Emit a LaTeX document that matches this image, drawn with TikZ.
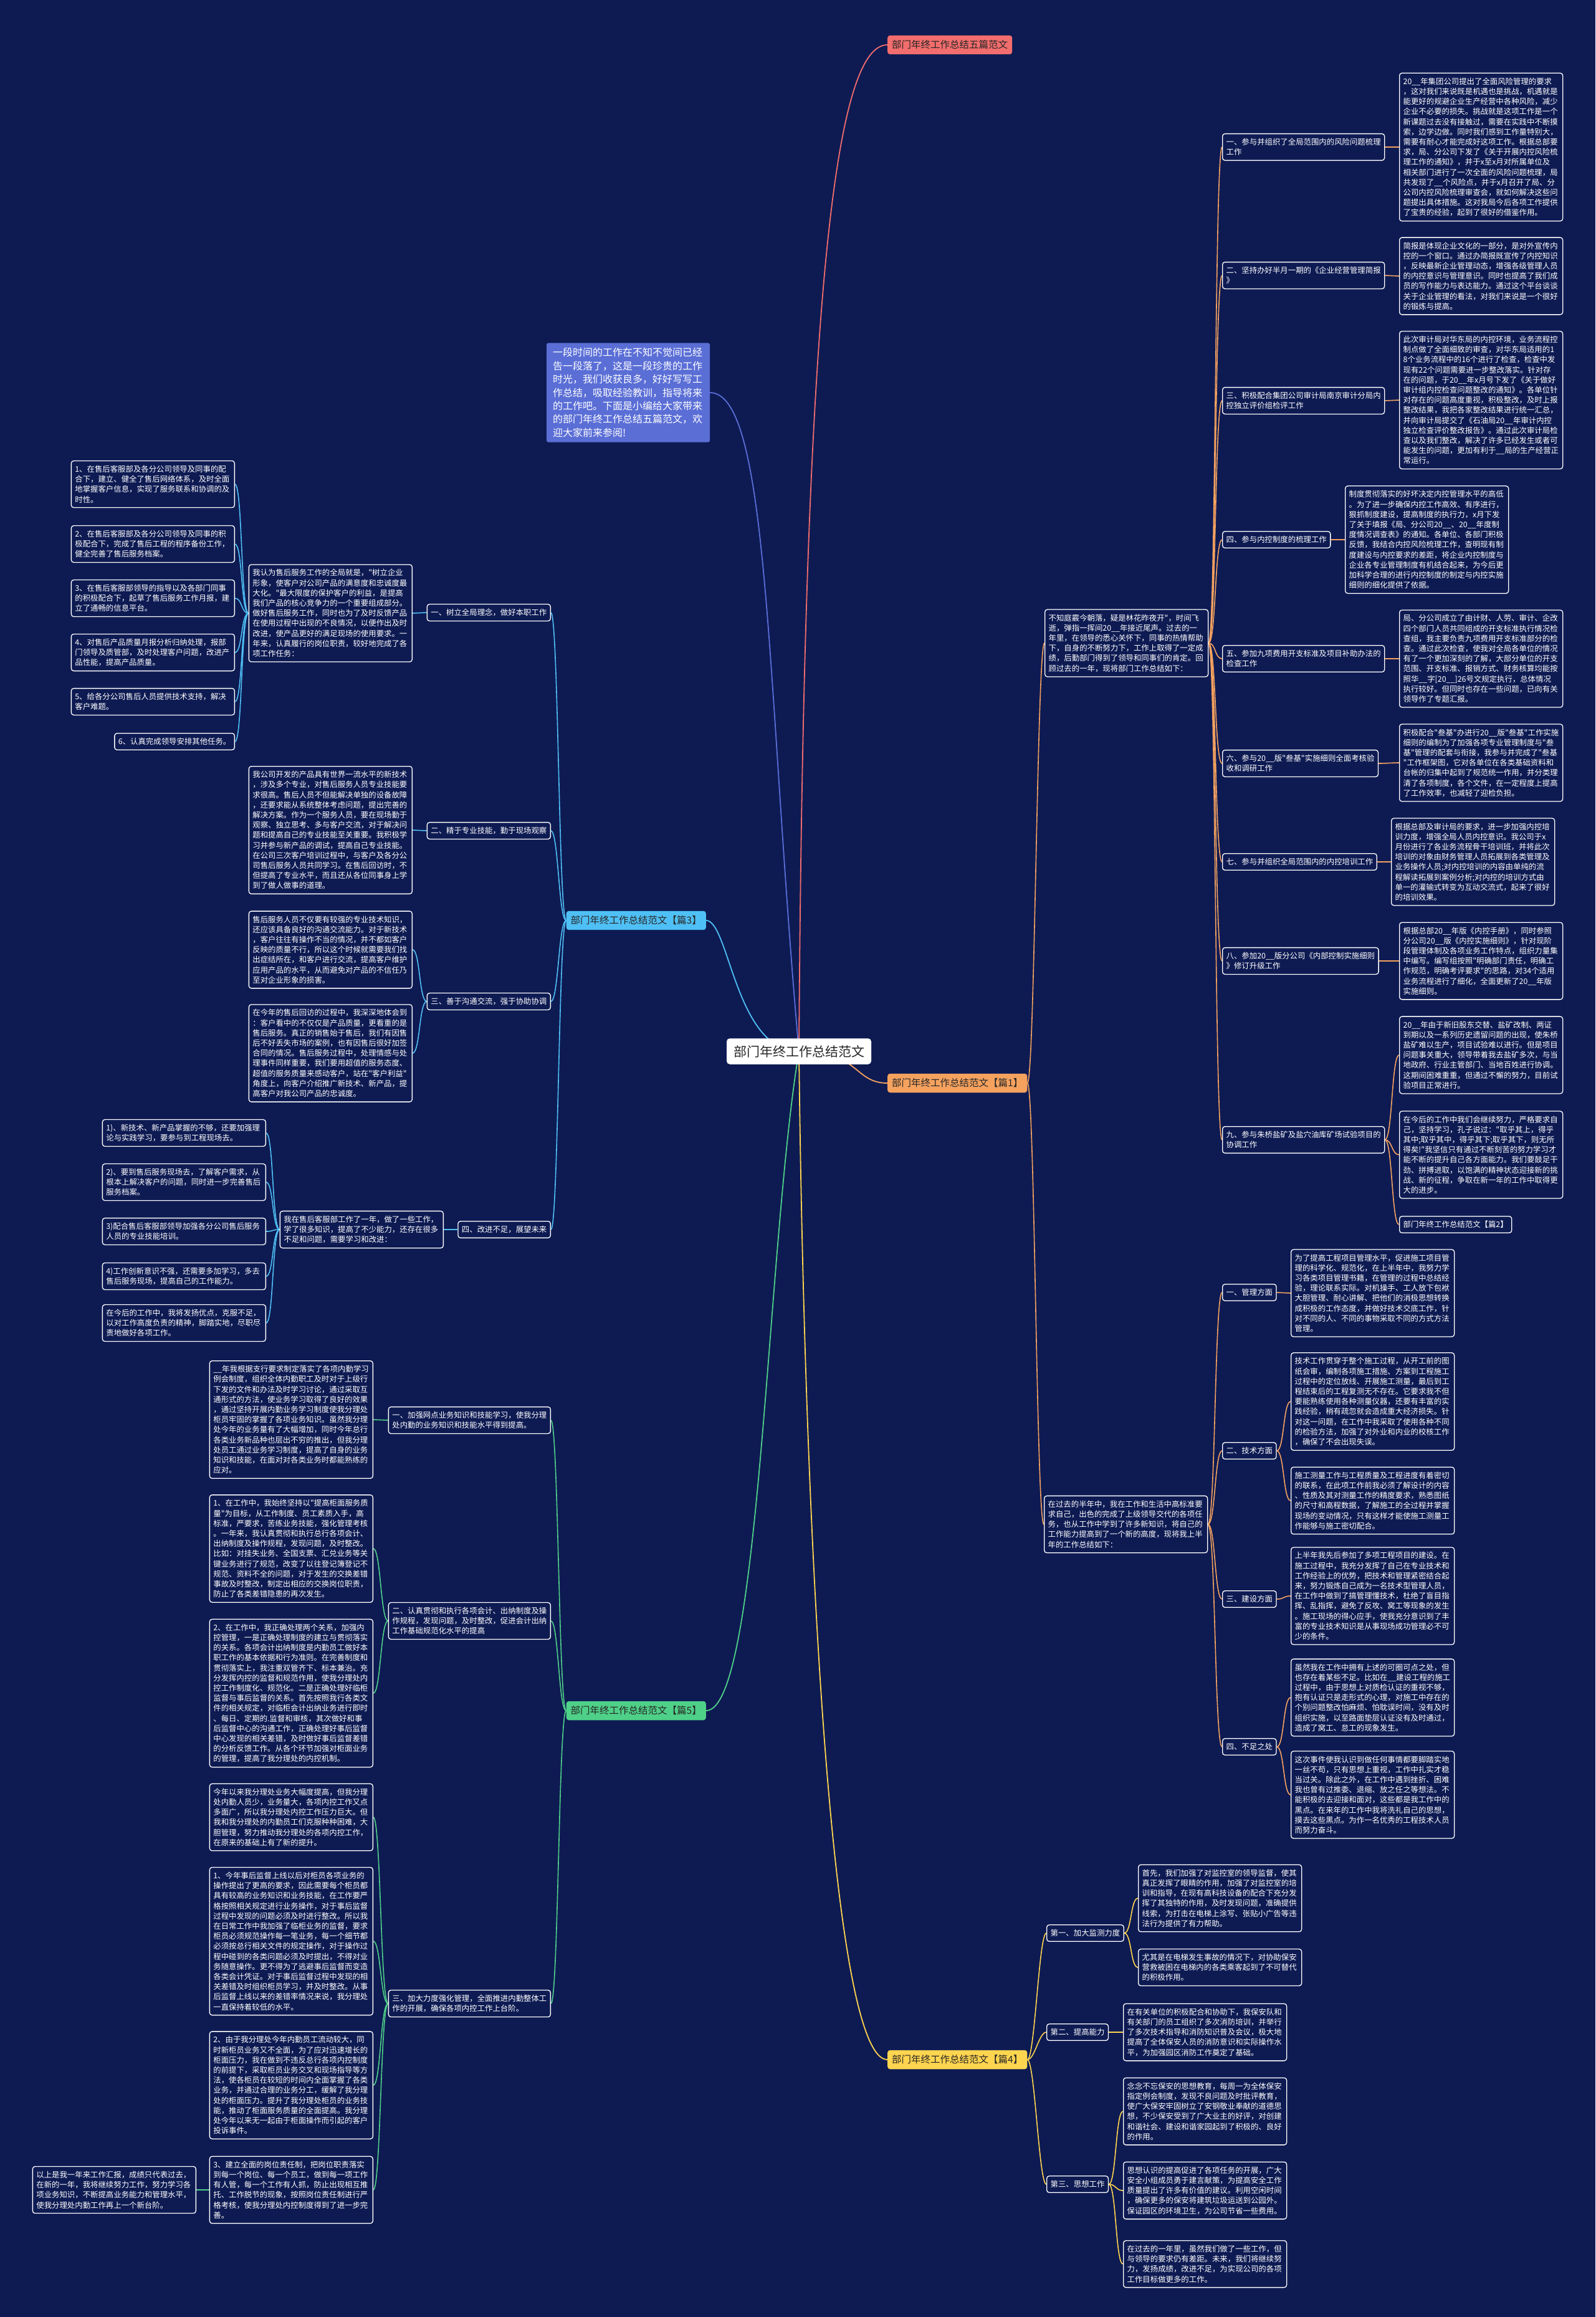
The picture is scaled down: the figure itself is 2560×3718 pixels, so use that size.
\documentclass[tikz,border=0pt]{standalone}
\usepackage{fontspec}
\newfontfamily\zh{Noto Sans CJK SC}
\usepackage{xcolor}
\definecolor{Night}{HTML}{0E1B53}
\definecolor{Rosy}{HTML}{F26D6D}
\definecolor{Periw}{HTML}{5A6ED6}
\definecolor{Sky}{HTML}{4FC0F5}
\definecolor{Apricot}{HTML}{F5A25F}
\definecolor{Mint}{HTML}{4FD088}
\definecolor{Butter}{HTML}{FFD54F}
\colorlet{night}{Night}
\colorlet{rosy}{Rosy}
\colorlet{periw}{Periw}
\colorlet{sky}{Sky}
\colorlet{apricot}{Apricot}
\colorlet{mint}{Mint}
\colorlet{butter}{Butter}
\usepackage{tikz}
\pgfdeclarelayer{bg}
\pgfdeclarelayer{wires}
\pgfsetlayers{bg,wires,main}

\begin{document}
\begin{tikzpicture}[x=1pt,y=-1pt,
  every node/.style={font=\zh\fontsize{12.4}{16.2}\selectfont,align=left,text=white},
  card/.style={draw=white,line width=1.3pt,rounded corners=4pt,fill=night,inner xsep=6pt,inner ysep=7.5pt},
  note/.style={card,text width=250pt},
  head/.style={rounded corners=4pt,inner xsep=7pt,inner ysep=8pt,text=black!85,font=\zh\fontsize{15.5}{19}\selectfont},
  wr/.style={line width=1.6pt,to path={.. controls +(12,0) and +(-12,0) .. (\tikztotarget)}},
  wl/.style={line width=1.6pt,to path={.. controls +(-12,0) and +(12,0) .. (\tikztotarget)}}]
\begin{pgfonlayer}{bg}
\fill[night] (0,0) rectangle (2560,3718);
\end{pgfonlayer}
\useasboundingbox (0,0) rectangle (2560,3718);

% centre and first level
\node[fill=white,text=black!85,rounded corners=5pt,inner xsep=11pt,inner ysep=11pt,font=\zh\fontsize{21}{25}\selectfont] (root) at (1282,1687) {部门年终工作总结范文};
\node[head,fill=rosy,anchor=west] (t0) at (1424,72) {部门年终工作总结五篇范文};
\node[fill=periw,rounded corners=3pt,text width=242pt,inner xsep=10pt,inner ysep=8pt,font=\zh\fontsize{16}{21.4}\selectfont] (i0) at (1008,630) {一段时间的工作在不知不觉间已经\\告一段落了，这是一段珍贵的工作\\时光，我们收获良多，好好写写工\\作总结，吸取经验教训，指导将来\\的工作吧。下面是小编给大家带来\\的部门年终工作总结五篇范文，欢\\迎大家前来参阅!};
\node[head,fill=apricot,anchor=west] (p1) at (1424,1738) {部门年终工作总结范文【篇1】};
\node[head,fill=sky,anchor=east] (p3) at (1133,1477) {部门年终工作总结范文【篇3】};
\node[head,fill=mint,anchor=east] (p5) at (1133,2745) {部门年终工作总结范文【篇5】};
\node[head,fill=butter,anchor=west] (p4) at (1424,3305) {部门年终工作总结范文【篇4】};

% 篇1
\node[note,anchor=west] (k0) at (1676,1032) {不知庭霰今朝落，疑是林花昨夜开"，时间飞\\逝，弹指一挥间20\_\_年接近尾声。过去的一\\年里，在领导的悉心关怀下，同事的热情帮助\\下，自身的不断努力下，工作上取得了一定成\\绩，后勤部门得到了领导和同事们的肯定。回\\顾过去的一年，现将部门工作总结如下：};
\node[card,anchor=west] (k1) at (1961,236) {一、参与并组织了全局范围内的风险问题梳理\\工作};
\node[card,anchor=west] (k2) at (1961,442) {二、坚持办好半月一期的《企业经营管理简报\\》};
\node[card,anchor=west] (k3) at (1961,643) {三、积极配合集团公司审计局南京审计分局内\\控独立评价组检评工作};
\node[card,anchor=west] (k4) at (1961,866) {四、参与内控制度的梳理工作};
\node[card,anchor=west] (k5) at (1961,1057) {五、参加九项费用开支标准及项目补助办法的\\检查工作};
\node[card,anchor=west] (k6) at (1961,1225) {六、参与20\_\_版"叁基"实施细则全面考核验\\收和调研工作};
\node[card,anchor=west] (k7) at (1961,1383) {七、参与并组织全局范围内的内控培训工作};
\node[card,anchor=west] (k8) at (1961,1542) {八、参加20\_\_版分公司《内部控制实施细则\\》修订升级工作};
\node[card,anchor=west] (k9) at (1961,1829) {九、参与朱桥盐矿及盐穴油库矿场试验项目的\\协调工作};
\node[note,anchor=west] (k1t) at (2245,236) {20\_\_年集团公司提出了全面风险管理的要求\\，这对我们来说既是机遇也是挑战，机遇就是\\能更好的规避企业生产经营中各种风险，减少\\企业不必要的损失。挑战就是这项工作是一个\\新课题过去没有接触过，需要在实践中不断摸\\索，边学边做。同时我们感到工作量特别大，\\需要有耐心才能完成好这项工作。根据总部要\\求，局、分公司下发了《关于开展内控风险梳\\理工作的通知》，并于x至x月对所属单位及\\相关部门进行了一次全面的风险问题梳理，局\\共发现了\_\_个风险点，并于x月召开了局、分\\公司内控风险梳理审查会，就如何解决这些问\\题提出具体措施。这对我局今后各项工作提供\\了宝贵的经验，起到了很好的借鉴作用。};
\node[note,anchor=west] (k2t) at (2245,443) {简报是体现企业文化的一部分，是对外宣传内\\控的一个窗口。通过办简报既宣传了内控知识\\，反映最新企业管理动态，增强各级管理人员\\的内控意识与管理意识。同时也提高了我们成\\员的写作能力与表达能力。通过这个平台谈谈\\关于企业管理的看法，对我们来说是一个很好\\的锻炼与提高。};
\node[note,anchor=west] (k3t) at (2245,642) {此次审计局对华东局的内控环境，业务流程控\\制点做了全面细致的审查，对华东局适用的1\\8个业务流程中的16个进行了检查，检查中发\\现有22个问题需要进一步整改落实。针对存\\在的问题，于20\_\_年x月号下发了《关于做好\\审计组内控检查问题整改的通知》。各单位针\\对存在的问题高度重视，积极整改，及时上报\\整改结果，我把各家整改结果进行统一汇总，\\并向审计局提交了《石油局20\_\_年审计内控\\独立检查评价整改报告》。通过此次审计局检\\查以及我们整改，解决了许多已经发生或者可\\能发生的问题，更加有利于\_\_局的生产经营正\\常运行。};
\node[note,anchor=west] (k4t) at (2158,866) {制度贯彻落实的好坏决定内控管理水平的高低\\。为了进一步确保内控工作高效、有序进行，\\狠抓制度建设，提高制度的执行力，x月下发\\了关于填报《局、分公司20\_\_、20\_\_年度制\\度情况调查表》的通知。各单位、各部门积极\\反馈，我结合内控风险梳理工作，查明现有制\\度建设与内控要求的差距，将企业内控制度与\\企业各专业管理制度有机结合起来，为今后更\\加科学合理的进行内控制度的制定与内控实施\\细则的细化提供了依据。};
\node[note,anchor=west] (k5t) at (2245,1057) {局、分公司成立了由计财、人劳、审计、企改\\四个部门人员共同组成的开支标准执行情况检\\查组，我主要负责九项费用开支标准部分的检\\查。通过此次检查，使我对全局各单位的情况\\有了一个更加深刻的了解，大部分单位的开支\\范围、开支标准、报销方式、财务核算均能按\\照华\_\_字[20\_\_]26号文规定执行，总体情况\\执行较好。但同时也存在一些问题，已向有关\\领导作了专题汇报。};
\node[note,anchor=west] (k6t) at (2245,1224) {积极配合"叁基"办进行20\_\_版"叁基"工作实施\\细则的编制为了加强各项专业管理制度与"叁\\基"管理的配套与衔接，我参与并完成了"叁基\\"工作框架图，它对各单位在各类基础资料和\\台帐的归集中起到了规范统一作用，并分类理\\清了各项制度，各个文件，在一定程度上提高\\了工作效率，也减轻了迎检负担。};
\node[note,anchor=west] (k7t) at (2232,1383) {根据总部及审计局的要求，进一步加强内控培\\训力度，增强全局人员内控意识。我公司于x\\月份进行了各业务流程骨干培训班，并将此次\\培训的对象由财务管理人员拓展到各类管理及\\业务操作人员;对内控培训的内容由单纯的流\\程解读拓展到案例分析;对内控的培训方式由\\单一的灌输式转变为互动交流式，起来了很好\\的培训效果。};
\node[note,anchor=west] (k8t) at (2245,1542) {根据总部20\_\_年版《内控手册》，同时参照\\分公司20\_\_版《内控实施细则》，针对现阶\\段管理体制及各项业务工作特点，组织力量集\\中编写。编写组按照"明确部门责任，明确工\\作规范，明确考评要求"的思路，对34个适用\\业务流程进行了细化，全面更新了20\_\_年版\\实施细则。};
\node[note,anchor=west] (k9a) at (2245,1693) {20\_\_年由于新旧股东交替、盐矿改制、两证\\到期以及一系列历史遗留问题的出现，使朱桥\\盐矿难以生产，项目试验难以进行。但是项目\\问题事关重大，领导带着我去盐矿多次，与当\\地政府、行业主管部门、当地百姓进行协调。\\这期间困难重重，但通过不懈的努力，目前试\\验项目正常进行。};
\node[note,anchor=west] (k9b) at (2245,1853) {在今后的工作中我们会继续努力，严格要求自\\己，坚持学习，孔子说过："取乎其上，得乎\\其中;取乎其中，得乎其下;取乎其下，则无所\\得矣!"我坚信只有通过不断刻苦的努力学习才\\能不断的提升自己各方面能力。我们要鼓足干\\劲、拼搏进取，以饱满的精神状态迎接新的挑\\战、新的征程，争取在新一年的工作中取得更\\大的进步。};
\node[card,anchor=west] (p2) at (2245,1965) {部门年终工作总结范文【篇2】};

% 篇2
\node[note,anchor=west] (g0) at (1675,2446) {在过去的半年中，我在工作和生活中高标准要\\求自己，出色的完成了上级领导交代的各项任\\务，也从工作中学到了许多新知识，将自己的\\工作能力提高到了一个新的高度，现将我上半\\年的工作总结如下：};
\node[card,anchor=west] (m1) at (1961,2074) {一、管理方面};
\node[card,anchor=west] (m2) at (1961,2328) {二、技术方面};
\node[card,anchor=west] (m3) at (1961,2566) {三、建设方面};
\node[card,anchor=west] (m4) at (1961,2803) {四、不足之处};
\node[note,anchor=west] (m1t) at (2071,2075) {为了提高工程项目管理水平，促进施工项目管\\理的科学化、规范化，在上半年中，我努力学\\习各类项目管理书籍，在管理的过程中总结经\\验，理论联系实际。对机操手、工人放下包袱\\大胆管理、耐心讲解、把他们的消极思想转换\\成积极的工作态度，并做好技术交底工作，针\\对不同的人、不同的事物采取不同的方式方法\\管理。};
\node[note,anchor=west] (m2a) at (2071,2249) {技术工作贯穿于整个施工过程，从开工前的图\\纸会审，编制各项施工措施、方案到工程施工\\过程中的定位放线、开展施工测量，最后到工\\程结束后的工程复测无不存在。它要求我不但\\要能熟练使用各种测量仪器，还要有丰富的实\\践经验，稍有疏忽就会造成重大经济损失。针\\对这一问题，在工作中我采取了使用各种不同\\的检验方法，加强了对外业和内业的校核工作\\，确保了不会出现失误。};
\node[note,anchor=west] (m2b) at (2071,2408) {施工测量工作与工程质量及工程进度有着密切\\的联系，在此项工作前我必须了解设计的内容\\、性质及其对测量工作的精度要求，熟悉图纸\\的尺寸和高程数据，了解施工的全过程并掌握\\现场的变动情况，只有这样才能使施工测量工\\作能够与施工密切配合。};
\node[note,anchor=west] (m3t) at (2071,2561) {上半年我先后参加了多项工程项目的建设。在\\施工过程中，我充分发挥了自己在专业技术和\\工作经验上的优势，把技术和管理紧密结合起\\来，努力锻炼自己成为一名技术型管理人员，\\在工作中做到了搞管理懂技术，杜绝了盲目指\\挥、乱指挥，避免了反攻、窝工等现象的发生\\。施工现场的得心应手，使我充分意识到了丰\\富的专业技术知识是从事现场成功管理必不可\\少的条件。};
\node[note,anchor=west] (m4a) at (2071,2724) {虽然我在工作中拥有上述的可圈可点之处，但\\也存在着某些不足。比如在\_\_建设工程的施工\\过程中，由于思想上对质检认证的重视不够，\\抱有认证只是走形式的心理，对施工中存在的\\个别问题整改怕麻烦、怕耽误时间，没有及时\\组织实施，以至路面垫层认证没有及时通过，\\造成了窝工、怠工的现象发生。};
\node[note,anchor=west] (m4b) at (2071,2880) {这次事件使我认识到做任何事情都要脚踏实地\\一丝不苟，只有思想上重视，工作中扎实才稳\\当过关。除此之外，在工作中遇到挫折、困难\\我也曾有过推委、退缩、放之任之等想法。不\\能积极的去迎接和面对，这些都是我工作中的\\黑点。在来年的工作中我将洗礼自己的思想，\\摸去这些黑点。为作一名优秀的工程技术人员\\而努力奋斗。};

% 篇4
\node[card,anchor=west] (f1) at (1679,3102) {第一、加大监测力度};
\node[card,anchor=west] (f2) at (1679,3261) {第二、提高能力};
\node[card,anchor=west] (f3) at (1679,3505) {第三、思想工作};
\node[note,anchor=west] (f1a) at (1826,3046) {首先，我们加强了对监控室的领导监督，使其\\真正发挥了眼睛的作用，加强了对监控室的培\\训和指导，在现有高科技设备的配合下充分发\\挥了其独特的作用，及时发现问题，准确提供\\线索，为打击在电梯上涂写、张贴小广告等违\\法行为提供了有力帮助。};
\node[note,anchor=west] (f1b) at (1826,3157) {尤其是在电梯发生事故的情况下，对协助保安\\营救被困在电梯内的各类乘客起到了不可替代\\的积极作用。};
\node[note,anchor=west] (f2t) at (1802,3261) {在有关单位的积极配合和协助下，我保安队和\\有关部门的员工组织了多次消防培训，并举行\\了多次技术指导和消防知识普及会议，极大地\\提高了全体保安人员的消防意识和实际操作水\\平，为加强园区消防工作奠定了基础。};
\node[note,anchor=west] (f3a) at (1802,3388) {念念不忘保安的思想教育，每周一为全体保安\\指定例会制度，发现不良问题及时批评教育，\\使广大保安牢固树立了安钢敬业奉献的道德思\\想，不少保安受到了广大业主的好评，对创建\\和谐社会、建设和谐家园起到了积极的、良好\\的作用。};
\node[note,anchor=west] (f3b) at (1802,3515) {思想认识的提高促进了各项任务的开展，广大\\安全小组成员勇于建言献策，为提高安全工作\\质量提出了许多有价值的建议。利用空闲时间\\，确保更多的保安将建筑垃圾运送到公园外。\\保证园区的环境卫生，为公司节省一些费用。};
\node[note,anchor=west] (f3c) at (1802,3633) {在过去的一年里，虽然我们做了一些工作，但\\与领导的要求仍有差距。未来，我们将继续努\\力，发扬成绩，改进不足，为实现公司的各项\\工作目标做更多的工作。};

% 篇3
\node[card,anchor=east] (a1) at (884,983) {一、树立全局理念，做好本职工作};
\node[card,anchor=east] (a2) at (884,1333) {二、精于专业技能，勤于现场观察};
\node[card,anchor=east] (a3) at (884,1607) {三、善于沟通交流，强于协助协调};
\node[card,anchor=east] (a4) at (884,1973) {四、改进不足，展望未来};
\node[note,anchor=east] (a1t) at (662,984) {我认为售后服务工作的全局就是，"树立企业\\形象，使客户对公司产品的满意度和忠诚度最\\大化。"最大限度的保护客户的利益，是提高\\我们产品的核心竞争力的一个重要组成部分。\\做好售后服务工作，同时也为了及时反馈产品\\在使用过程中出现的不良情况，以便作出及时\\改进，使产品更好的满足现场的使用要求。一\\年来，认真履行的岗位职责，较好地完成了各\\项工作任务：};
\node[note,anchor=east] (b1) at (377,777) {1、在售后客服部及各分公司领导及同事的配\\合下，建立、健全了售后网络体系，及时全面\\地掌握客户信息，实现了服务联系和协调的及\\时性。};
\node[note,anchor=east] (b2) at (377,873) {2、在售后客服部及各分公司领导及同事的积\\极配合下，完成了售后工程的程序备份工作，\\健全完善了售后服务档案。};
\node[note,anchor=east] (b3) at (377,960) {3、在售后客服部领导的指导以及各部门同事\\的积极配合下，起草了售后服务工作月报，建\\立了通畅的信息平台。};
\node[note,anchor=east] (b4) at (377,1047) {4、对售后产品质量月报分析归纳处理，报部\\门领导及质管部，及时处理客户问题，改进产\\品性能，提高产品质量。};
\node[note,anchor=east] (b5) at (377,1126) {5、给各分公司售后人员提供技术支持，解决\\客户难题。};
\node[card,anchor=east] (b6) at (377,1190) {6、认真完成领导安排其他任务。};
\node[note,anchor=east] (a2t) at (662,1332) {我公司开发的产品具有世界一流水平的新技术\\，涉及多个专业，对售后服务人员专业技能要\\求很高。售后人员不但能解决单独的设备故障\\，还要求能从系统整体考虑问题，提出完善的\\解决方案。作为一个服务人员，要在现场勤于\\观察、独立思考、多与客户交流，对于解决问\\题和提高自己的专业技能至关重要。我积极学\\习并参与新产品的调试，提高自己专业技能。\\在公司三次客户培训过程中，与客户及各分公\\司售后服务人员共同学习。在售后回访时，不\\但提高了专业水平，而且还从各位同事身上学\\到了做人做事的道理。};
\node[note,anchor=east] (a3a) at (662,1524) {售后服务人员不仅要有较强的专业技术知识，\\还应该具备良好的沟通交流能力。对于新技术\\，客户往往有操作不当的情况，并不都如客户\\反映的质量不行，所以这个时候就需要我们找\\出症结所在，和客户进行交流，提高客户维护\\应用产品的水平，从而避免对产品的不信任乃\\至对企业形象的损害。};
\node[note,anchor=east] (a3b) at (662,1690) {在今年的售后回访的过程中，我深深地体会到\\：客户看中的不仅仅是产品质量，更看重的是\\售后服务。真正的销售始于售后，我们有因售\\后不好丢失市场的案例，也有因售后很好加签\\合同的情况。售后服务过程中，处理情感与处\\理事件同样重要，我们要用超值的服务态度、\\超值的服务质量来感动客户，站在"客户利益"\\角度上，向客户介绍推广新技术、新产品，提\\高客户对我公司产品的忠诚度。};
\node[note,anchor=east] (a4t) at (712,1973) {我在售后客服部工作了一年，做了一些工作，\\学了很多知识，提高了不少能力，还存在很多\\不足和问题，需要学习和改进：};
\node[note,anchor=east] (c1) at (427,1818) {1)、新技术、新产品掌握的不够，还要加强理\\论与实践学习，要参与到工程现场去。};
\node[note,anchor=east] (c2) at (427,1897) {2)、要到售后服务现场去，了解客户需求，从\\根本上解决客户的问题，同时进一步完善售后\\服务档案。};
\node[note,anchor=east] (c3) at (427,1976) {3)配合售后客服部领导加强各分公司售后服务\\人员的专业技能培训。};
\node[note,anchor=east] (c4) at (427,2048) {4)工作创新意识不强，还需要多加学习，多去\\售后服务现场，提高自己的工作能力。};
\node[note,anchor=east] (c5) at (427,2123) {在今后的工作中，我将发扬优点，克服不足，\\以对工作高度负责的精神，脚踏实地，尽职尽\\责地做好各项工作。};

% 篇5
\node[card,anchor=east] (e1) at (884,2279) {一、加强网点业务知识和技能学习，使我分理\\处内勤的业务知识和技能水平得到提高。};
\node[card,anchor=east] (e2) at (884,2601) {二、认真贯彻和执行各项会计、出纳制度及操\\作规程，发现问题，及时整改，促进会计出纳\\工作基础规范化水平的提高};
\node[card,anchor=east] (e3) at (884,3215) {三、加大力度强化管理，全面推进内勤整体工\\作的开展，确保各项内控工作上台阶。};
\node[note,anchor=east] (e1t) at (599,2278) {\_\_年我根据支行要求制定落实了各项内勤学习\\例会制度，组织全体内勤职工及时对于上级行\\下发的文件和办法及时学习讨论，通过采取互\\通形式的方法，使业务学习取得了良好的效果\\，通过坚持开展内勤业务学习制度使我分理处\\柜员牢固的掌握了各项业务知识。虽然我分理\\处今年的业务量有了大幅增加，同时今年总行\\各类业务新品种也层出不穷的推出，但我分理\\处员工通过业务学习制度，提高了自身的业务\\知识和技能，在面对对各类业务时都能熟练的\\应对。};
\node[note,anchor=east] (e2a) at (599,2485) {1、在工作中，我始终坚持以"提高柜面服务质\\量"为目标，从工作制度、员工素质入手，高\\标准，严要求，苦练业务技能，强化管理考核\\。一年来，我认真贯彻和执行总行各项会计、\\出纳制度及操作规程，发现问题，及时整改。\\比如：对挂失业务、全国支票、汇兑业务等关\\键业务进行了规范，改变了以往登记簿登记不\\规范、资料不全的问题，对于发生的交换差错\\事故及时整改，制定出相应的交换岗位职责，\\防止了各类差错隐患的再次发生。};
\node[note,anchor=east] (e2b) at (599,2717) {2、在工作中，我正确处理两个关系，加强内\\控管理，一是正确处理制度的建立与贯彻落实\\的关系。各项会计出纳制度是内勤员工做好本\\职工作的基本依据和行为准则。在完善制度和\\贯彻落实上，我注重双管齐下、标本兼治。充\\分发挥内控的监督和规范作用，使我分理处内\\控工作制度化、规范化。二是正确处理好临柜\\监督与事后监督的关系。首先按照我行各类文\\件的相关规定，对临柜会计出纳业务进行即时\\、每日、定期的.监督和审核，其次做好和事\\后监督中心的沟通工作，正确处理好事后监督\\中心发现的相关差错，及时做好事后监督差错\\的分析反馈工作。从各个环节加强对柜面业务\\的管理，提高了我分理处的内控机制。};
\node[note,anchor=east] (e3a) at (599,2916) {今年以来我分理处业务大幅度提高，但我分理\\处内勤人员少，业务量大，各项内控工作又点\\多面广，所以我分理处内控工作压力巨大。但\\我和我分理处的内勤员工们克服种种困难，大\\胆管理，努力推动我分理处的各项内控工作，\\在原来的基础上有了新的提升。};
\node[note,anchor=east] (e3b) at (599,3115) {1、今年事后监督上线以后对柜员各项业务的\\操作提出了更高的要求，因此需要每个柜员都\\具有较高的业务知识和业务技能，在工作要严\\格按照相关规定进行业务操作，对于事后监督\\过程中发现的问题必须及时进行整改。所以我\\在日常工作中我加强了临柜业务的监督，要求\\柜员必须规范操作每一笔业务，每一个细节都\\必须按总行相关文件的规定操作，对于操作过\\程中碰到的各类问题必须及时提出，不得对业\\务随意操作。更不得为了逃避事后监督而变造\\各类会计凭证。对于事后监督过程中发现的相\\关差错及时组织柜员学习，并及时整改。从事\\后监督上线以来的差错率情况来说，我分理处\\一直保持着较低的水平。};
\node[note,anchor=east] (e3c) at (599,3346) {2、由于我分理处今年内勤员工流动较大，同\\时新柜员业务又不全面，为了应对迅速增长的\\柜面压力，我在做到不违反总行各项内控制度\\的前提下，采取柜员业务交叉和现场指导等方\\法，使各柜员在较短的时间内全面掌握了各类\\业务，并通过合理的业务分工，缓解了我分理\\处的柜面压力。提升了我分理处柜员的业务技\\能，推动了柜面服务质量的全面提高。我分理\\处今年以来无一起由于柜面操作而引起的客户\\投诉事件。};
\node[note,anchor=east] (e3d) at (599,3514) {3、建立全面的岗位责任制，把岗位职责落实\\到每一个岗位、每一个员工，做到每一项工作\\有人管，每一个工作有人抓，防止出现相互推\\托、工作脱节的现象，按照岗位责任制进行严\\格考核，使我分理处内控制度得到了进一步完\\善。};
\node[note,anchor=east] (e4) at (315,3514) {以上是我一年来工作汇报，成绩只代表过去，\\在新的一年，我将继续努力工作，努力学习各\\项业务知识，不断提高业务能力和管理水平，\\使我分理处内勤工作再上一个新台阶。};

% connectors
\begin{pgfonlayer}{wires}
\draw[rosy,line width=1.8pt] (root.center) .. controls (1290,420) and (1345,72) .. (t0.west);
\draw[periw,line width=1.8pt] (root.center) .. controls (1230,1100) and (1235,630) .. (i0.east);
\draw[sky,line width=1.8pt] (root.center) .. controls (1180,1687) and (1170,1477) .. (p3.east);
\draw[apricot,line width=1.8pt] (root.center) .. controls (1380,1687) and (1370,1738) .. (p1.west);
\draw[mint,line width=1.8pt] (root.center) .. controls (1230,2000) and (1220,2745) .. (p5.east);
\draw[butter,line width=1.8pt] (root.center) .. controls (1290,2400) and (1330,3305) .. (p4.west);
\draw[apricot,wr] (p1.east) to (k0.west);\draw[apricot,wr] (p1.east) to (g0.west);
\foreach \c in {k1,k2,k3,k4,k5,k6,k7,k8,k9} \draw[apricot,wr] (k0.east) to (\c.west);
\foreach \c/\d in {k1/k1t,k2/k2t,k3/k3t,k4/k4t,k5/k5t,k6/k6t,k7/k7t,k8/k8t,k9/k9a,k9/k9b,k9/p2} \draw[apricot,wr] (\c.east) to (\d.west);
\foreach \c in {m1,m2,m3,m4} \draw[apricot,wr] (g0.east) to (\c.west);
\foreach \c/\d in {m1/m1t,m2/m2a,m2/m2b,m3/m3t,m4/m4a,m4/m4b} \draw[apricot,wr] (\c.east) to (\d.west);
\foreach \c in {f1,f2,f3} \draw[butter,wr] (p4.east) to (\c.west);
\foreach \c/\d in {f1/f1a,f1/f1b,f2/f2t,f3/f3a,f3/f3b,f3/f3c} \draw[butter,wr] (\c.east) to (\d.west);
\foreach \c in {a1,a2,a3,a4} \draw[sky,wl] (p3.west) to (\c.east);
\foreach \c/\d in {a1/a1t,a2/a2t,a3/a3a,a3/a3b,a4/a4t} \draw[sky,wl] (\c.west) to (\d.east);
\foreach \c in {b1,b2,b3,b4,b5,b6} \draw[sky,wl] (a1t.west) to (\c.east);
\foreach \c in {c1,c2,c3,c4,c5} \draw[sky,wl] (a4t.west) to (\c.east);
\foreach \c in {e1,e2,e3} \draw[mint,wl] (p5.west) to (\c.east);
\foreach \c/\d in {e1/e1t,e2/e2a,e2/e2b,e3/e3a,e3/e3b,e3/e3c,e3/e3d,e3d/e4} \draw[mint,wl] (\c.west) to (\d.east);
\end{pgfonlayer}
\end{tikzpicture}
\end{document}
